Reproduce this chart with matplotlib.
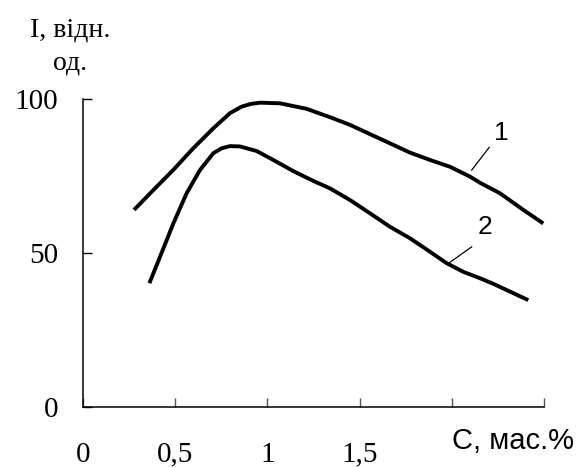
import matplotlib
matplotlib.use("Agg")
import matplotlib.pyplot as plt

# curve 1 (upper) and curve 2 (lower)
c1_x = [0.277, 0.381, 0.490, 0.598, 0.707, 0.797, 0.860, 0.910, 0.960, 1.068,
        1.213, 1.339, 1.448, 1.556, 1.665, 1.773, 1.882, 1.990, 2.099, 2.153,
        2.261, 2.388, 2.496]
c1_y = [64.0, 70.4, 77.0, 84.0, 90.5, 95.4, 97.5, 98.4, 98.8, 98.6,
        96.8, 94.1, 91.6, 88.6, 85.6, 82.6, 80.2, 78.0, 74.8, 72.8,
        69.4, 64.0, 59.6]
c2_x = [0.360, 0.418, 0.490, 0.562, 0.634, 0.707, 0.752, 0.797, 0.851, 0.942,
        1.032, 1.140, 1.249, 1.339, 1.448, 1.556, 1.665, 1.773, 1.882, 1.972,
        2.062, 2.153, 2.225, 2.415]
c2_y = [40.2, 48.8, 59.6, 69.4, 76.9, 82.4, 84.0, 84.7, 84.6, 83.1,
        80.2, 76.6, 73.4, 71.0, 67.2, 62.9, 58.5, 54.8, 50.4, 46.7,
        43.9, 41.8, 40.0, 34.7]

x_ticks = [0, 0.5, 1, 1.5, 2, 2.5]
x_labels = ["0", "0,5", "1", "1,5", "", ""]
y_ticks = [0, 50, 100]
y_labels = ["0", "50", "100"]

serif = "Liberation Serif"
sans = "Liberation Sans"

fig = plt.figure(figsize=(5.76, 4.68), dpi=100)
ax = fig.add_axes([0.1441, 0.1303, 0.8003, 0.6582])

for xs, ys in [(c1_x, c1_y), (c2_x, c2_y)]:
    ax.plot(xs, ys, color="black", lw=2.8, solid_capstyle="butt",
            solid_joinstyle="round", clip_on=False)

# leader lines + curve numbers
ax.plot([2.108, 2.203], [76.9, 84.3], color="black", lw=0.9)
ax.plot([1.986, 2.108], [46.8, 52.0], color="black", lw=0.9)
ax.text(2.271, 88.9, "1", family=sans, fontsize=19, ha="center", va="center")
ax.text(2.18, 58.5, "2", family=sans, fontsize=19, ha="center", va="center")

ax.set_xlim(0, 2.5)
ax.set_ylim(0, 100)
ax.spines["top"].set_visible(False)
ax.spines["right"].set_visible(False)
for s in ("left", "bottom"):
    ax.spines[s].set_linewidth(1.1)

ax.set_xticks(x_ticks)
ax.set_xticklabels(x_labels, family=serif, fontsize=21)
ax.set_yticks(y_ticks)
ax.set_yticklabels(y_labels, family=serif, fontsize=21)
ax.tick_params(axis="x", direction="in", length=6.5, width=1.0, color="#555555", pad=25)
ax.tick_params(axis="y", direction="in", length=6.5, width=1.0, color="black", pad=18)

fig.text(70 / 576, 1 - 30 / 468, "I, відн.", family=serif, fontsize=20,
         ha="center", va="center")
fig.text(70 / 576, 1 - 63 / 468, "од.", family=serif, fontsize=20,
         ha="center", va="center")
fig.text(513 / 576, 1 - 441 / 468, "C, мас.%", family=sans, fontsize=21,
         ha="center", va="center")

fig.savefig("out.png", dpi=100)
